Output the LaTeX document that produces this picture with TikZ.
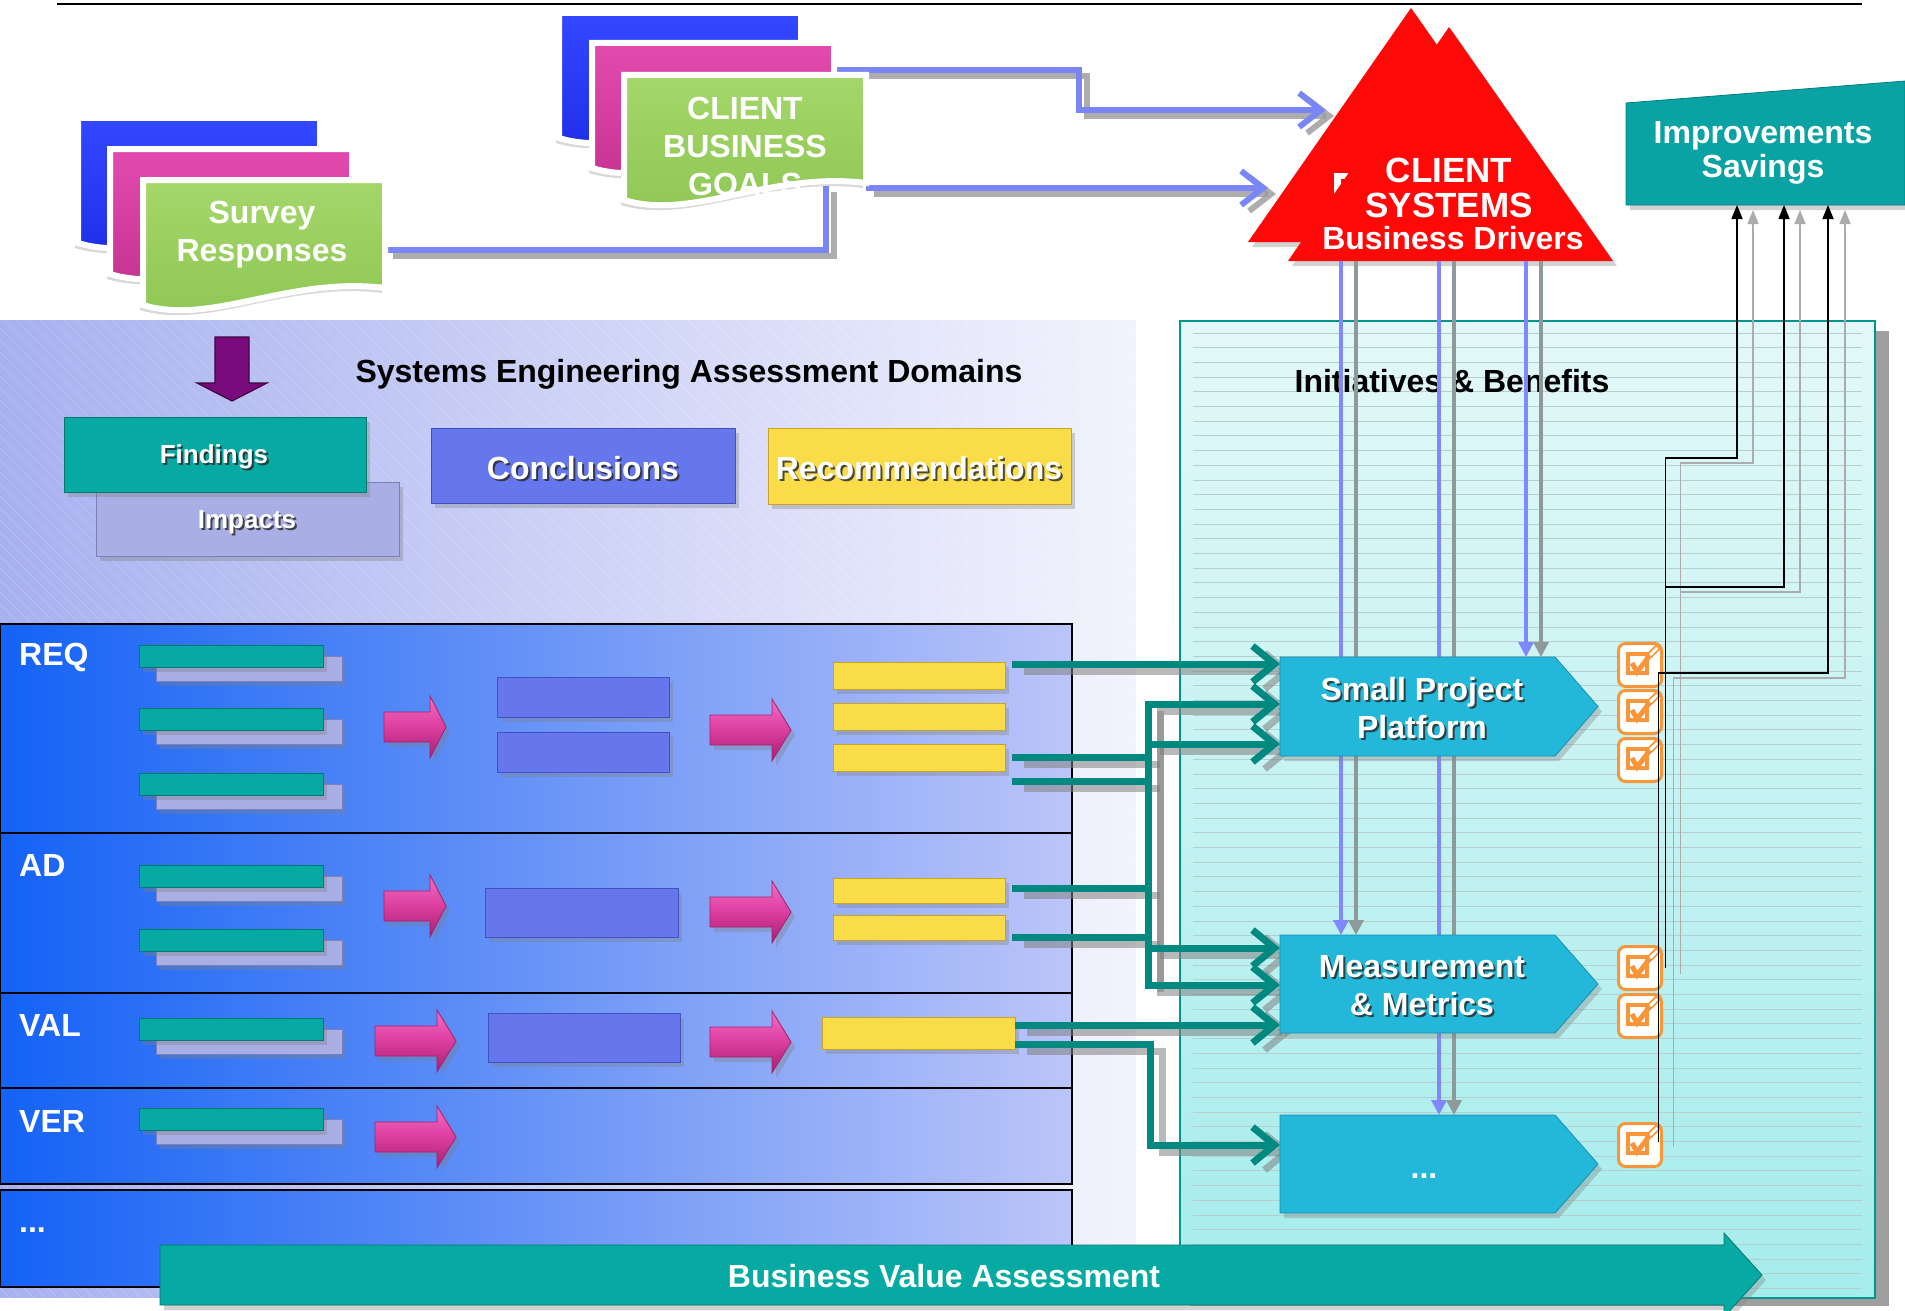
\documentclass[tikz,border=0pt]{standalone}
\usepackage{fontspec}
\setmainfont{Liberation Sans}
\usetikzlibrary{arrows.meta,shadows}

% palette
\definecolor{bandL}{HTML}{A7B1EF}
\definecolor{bandR}{HTML}{F3F3FD}
\definecolor{rowL}{HTML}{1462F6}
\definecolor{rowR}{HTML}{BCC5F8}
\definecolor{panelT}{HTML}{E3F8F8}
\definecolor{panelB}{HTML}{A5ECEC}
\definecolor{panelEdge}{HTML}{00958D}
\definecolor{ruleC}{HTML}{B5CFCF}
\definecolor{tealC}{HTML}{008980}
\definecolor{periw}{HTML}{7B86F6}
\definecolor{vblue}{HTML}{8088FF}
\definecolor{vgray}{HTML}{8E9999}
\definecolor{initL}{HTML}{62EAF8}
\definecolor{initB}{HTML}{23B8D9}
\definecolor{initD}{HTML}{1790B0}
\definecolor{tealL}{HTML}{34EAE0}
\definecolor{tealB}{HTML}{07AAA2}
\definecolor{tealD}{HTML}{05786F}
\definecolor{lavL}{HTML}{D8DAF7}
\definecolor{lavB}{HTML}{A9AEE5}
\definecolor{lavD}{HTML}{7A80BA}
\definecolor{conL}{HTML}{93A0FA}
\definecolor{conB}{HTML}{6677EE}
\definecolor{conD}{HTML}{4251C0}
\definecolor{recL}{HTML}{FFF29A}
\definecolor{recB}{HTML}{F9DC48}
\definecolor{recD}{HTML}{C9A22A}
\definecolor{pinkL}{HTML}{F46CC4}
\definecolor{pinkB}{HTML}{DC3E9F}
\definecolor{pinkD}{HTML}{A5206F}
\definecolor{grnL}{HTML}{A4D76A}
\definecolor{grnB}{HTML}{8EC653}
\definecolor{sblueL}{HTML}{3348FF}
\definecolor{sblueB}{HTML}{1E2DE6}
\definecolor{spinkL}{HTML}{E44AAE}
\definecolor{spinkB}{HTML}{C53290}
\definecolor{redB}{HTML}{FF0808}
\definecolor{redD}{HTML}{9C1010}
\definecolor{orangeC}{HTML}{F9963A}
\definecolor{purp}{HTML}{7A0B7C}
\definecolor{impL}{HTML}{1CC9C6}
\definecolor{impB}{HTML}{0AA3A3}
\definecolor{impD}{HTML}{067C7C}

% bevelled vertical shadings: name, light, base, dark
\newcommand\bevelshade[4]{\pgfdeclareverticalshading{#1}{100bp}{color(0bp)=(#4); color(8bp)=(#4); color(16bp)=(#3); color(80bp)=(#3); color(90bp)=(#2); color(100bp)=(#2)}}
\bevelshade{bvTeal}{tealL}{tealB}{tealD}
\bevelshade{bvLav}{lavL}{lavB}{lavD}
\bevelshade{bvCon}{conL}{conB}{conD}
\bevelshade{bvRec}{recL}{recB}{recD}
\bevelshade{bvInit}{initL}{initB}{initD}
\bevelshade{bvImp}{impL}{impB}{impD}
\pgfdeclareverticalshading{bvBVA}{100bp}{color(0bp)=(tealD); color(17bp)=(tealD); color(21bp)=(tealB); color(78bp)=(tealB); color(86bp)=(tealL); color(100bp)=(tealL)}
\pgfdeclareverticalshading{redTri}{100bp}{color(0bp)=(redD); color(4bp)=(redD); color(9bp)=(redB); color(100bp)=(redB)}

\newcommand\fntA{\fontsize{32}{38}\selectfont\bfseries}
\newcommand\fntB{\fontsize{26}{30}\selectfont\bfseries}
\newcommand\fntC{\fontsize{35}{35}\selectfont\bfseries}

% white label with a dark offset copy: font, name, position, text
\newcommand\stxt[4]{%
  \node[wt,font=#1,text=black!85,opacity=0.8] at ([shift={(2,2)}]#3) {#4};
  \node[wt,font=#1] (#2) at (#3) {#4};}

% page sheet with a wavy lower edge: x, y, style
\newcommand\docsheet[3]{%
  \path[#3] (#1,#2) -- (#1+242,#2) -- (#1+242,#2+108)
    .. controls (#1+146,#2+96) and (#1+68,#2+146) .. (#1,#2+125) -- cycle;}

% block arrow: x, y centre, shaft length, head length
\newcommand\pinkarrow[4]{%
  \path[pinkshape] (#1,#2-15) -- (#1+#3,#2-15) -- (#1+#3,#2-31) -- (#1+#3+#4,#2)
    -- (#1+#3,#2+31) -- (#1+#3,#2+15) -- (#1,#2+15) -- cycle;}

% finding bar over its impact bar: name, x, y
\newcommand\fpair[3]{%
  \node[lavbox,minimum width=186pt,minimum height=25pt] (#1b) at (#2+17,#3+11) {};
  \node[tealbox,minimum width=184pt,minimum height=22pt] (#1) at (#2,#3) {};}

% tick box: name, centre y
\newcommand\checkbox[2]{%
  \node[chkbox] (#1) at (1640,#2) {};
  \draw[orangeC,line width=4.5pt] ([shift={(-12,-11)}]#1.center) rectangle ([shift={(7,8)}]#1.center);
  \draw[orangeC,line width=5pt] ([shift={(-8,-2)}]#1.center) -- ([shift={(-3,7)}]#1.center) -- ([shift={(11,-11)}]#1.center);
  \draw[orangeC,line width=6.5pt] ([shift={(9,-9)}]#1.center) -- ([shift={(18,-18)}]#1.center);
  \draw[white,line width=2.8pt] ([shift={(10,-10)}]#1.center) -- ([shift={(17,-17)}]#1.center);}

% flows from the source documents to the drivers
\newcommand\bluenet[1]{%
  \draw[#1] (gdocA) -- (1079,70) -- (1079,110) -- (triInA);
  \draw[#1] (gdocB) -- (triInB);
  \draw[#1,-] (sdocA) -- (826,250) -- (826,186);}

% flows from the recommendations to the initiatives
\newcommand\tealnet[1]{%
  \draw[#1,-] (tS3) -- (tS3 -| busTop);
  \draw[#1,-] (tS4) -- (tS4 -| busTop);
  \draw[#1,-] (tA1) -- (tA1 -| busTop);
  \draw[#1,-] (tA2) -- (tA2 -| busTop);
  \draw[#1] (tS1) -- (tS1 -| spp.west);
  \draw[#1] (busBot) -- (busTop) -- (busTop -| spp.west);
  \draw[#1] (busA) -- (busA -| spp.west);
  \draw[#1] (busTop) -- (busBot) -- (busBot -| mm.west);
  \draw[#1] (busB) -- (busB -| mm.west);
  \draw[#1] (tV1) -- (tV1 -| mm.west);
  \draw[#1] (tV2) -- (tV2 -| dIn) -- (dIn) -- (dIn -| dots.west);}

\begin{document}
\begin{tikzpicture}[x=1pt,y=-1pt,
  dshadow/.style={drop shadow={opacity=0.35,shadow xshift=4pt,shadow yshift=-5pt}},
  box/.style={inner sep=0pt,outer sep=0pt,anchor=north west,line width=0.8pt},
  tealbox/.style={box,shading=bvTeal,draw=tealD,dshadow},
  lavbox/.style={box,shading=bvLav,draw=lavD,dshadow},
  conbox/.style={box,shading=bvCon,draw=conD,dshadow},
  recbox/.style={box,shading=bvRec,draw=recD,dshadow},
  wt/.style={text=white,font=\fntA,align=center,inner sep=0pt},
  lbl/.style={wt,anchor=west},
  rowbox/.style={left color=rowL,right color=rowR,draw=black,line width=2.5pt},
  docsheet/.style={draw=white,line width=6pt,drop shadow={opacity=0.3,shadow xshift=-3pt,shadow yshift=-5pt}},
  pinkshape/.style={top color=pinkL,bottom color=pinkD,middle color=pinkB,draw=pinkD,line width=0.8pt,dshadow},
  initshape/.style={shading=bvInit,draw=initD,line width=0.8pt,dshadow},
  chkbox/.style={draw=orangeC,fill=white,line width=3pt,rounded corners=7pt,minimum width=43pt,minimum height=43pt,inner sep=0pt},
  tconn/.style={draw=tealC,line width=7pt,-{Straight Barb[length=22pt,width=36pt]}},
  tshad/.style={draw=gray,opacity=0.55,line width=7pt,-{Straight Barb[length=22pt,width=36pt]}},
  bconn/.style={draw=periw,line width=6pt,-{Straight Barb[length=22pt,width=34pt]}},
  bshad/.style={draw=gray!80,opacity=0.8,line width=6pt,-{Straight Barb[length=22pt,width=34pt]}},
  vb/.style={draw=vblue,line width=3.5pt,-{Triangle[length=15pt,width=15pt]}},
  vg/.style={draw=vgray,line width=3.5pt,-{Triangle[length=15pt,width=15pt]}},
  kb/.style={draw=black,line width=1.6pt,-{Triangle[length=14pt,width=11pt]}},
  kg/.style={draw=gray!65,line width=1.6pt,-{Triangle[length=14pt,width=11pt]}},
]
\useasboundingbox (0,0) rectangle (1905,1311);
\clip (0,0) rectangle (1905,1311);
\fill[white] (0,0) rectangle (1905,1311);

% ---- assessment band ----
\path[left color=bandL,right color=bandR] (0,320) rectangle (1136,1297);
\begin{scope}
  \clip (0,320) rectangle (1136,1297);
  \foreach \i in {-980,-968,...,1136} \draw[white,opacity=0.2,line width=0.7pt] (\i,320) -- (\i+980,1300);
\end{scope}

% ---- initiatives panel ----
\fill[gray!75] (1190,331) rectangle (1889,1306);
\path[top color=panelT,bottom color=panelB] (1180,321) rectangle (1875,1298);
\foreach \k in {0,...,65} \draw[ruleC,line width=0.9pt] (1193,{333+14.7*\k}) -- (1862,{333+14.7*\k});
\draw[panelEdge,line width=2.5pt] (1180,321) rectangle (1875,1298);
\node[font=\fntA,inner sep=0pt] (ibT) at (1452,381) {Initiatives \& Benefits};

% heading rule
\draw[line width=2pt] (57,4) -- (1862,4);

% ---- domain rows ----
\foreach \ta/\tb in {624/833,833/993,993/1088,1088/1184,1190/1287}
  \path[rowbox] (0,\ta) rectangle (1072,\tb);
\node[lbl] (lREQ) at (19,657) {REQ};
\node[lbl] (lAD) at (19,865) {AD};
\node[lbl] (lVAL) at (19,1025) {VAL};
\node[lbl] (lVER) at (19,1121) {VER};
\node[lbl] (lMore) at (19,1230) {...};

\fpair{fR1}{139}{645}
\fpair{fR2}{139}{708}
\fpair{fR3}{139}{773}
\fpair{fA1}{139}{865}
\fpair{fA2}{139}{929}
\fpair{fV1}{139}{1018}
\fpair{fE1}{139}{1108}

\pinkarrow{384}{727}{46}{16}
\pinkarrow{710}{730}{62}{19}
\pinkarrow{384}{906}{46}{16}
\pinkarrow{710}{912}{62}{19}
\pinkarrow{375}{1041}{62}{19}
\pinkarrow{710}{1042}{62}{19}
\pinkarrow{375}{1137}{62}{19}

\node[conbox,minimum width=172pt,minimum height=40pt] (cR1) at (497,677) {};
\node[conbox,minimum width=172pt,minimum height=40pt] (cR2) at (497,732) {};
\node[conbox,minimum width=193pt,minimum height=49pt] (cA1) at (485,888) {};
\node[conbox,minimum width=192pt,minimum height=49pt] (cV1) at (488,1013) {};

\node[recbox,minimum width=172pt,minimum height=27pt] (yR1) at (833,662) {};
\node[recbox,minimum width=172pt,minimum height=27pt] (yR2) at (833,703) {};
\node[recbox,minimum width=172pt,minimum height=27pt] (yR3) at (833,744) {};
\node[recbox,minimum width=172pt,minimum height=25pt] (yA1) at (833,878) {};
\node[recbox,minimum width=172pt,minimum height=25pt] (yA2) at (833,915) {};
\node[recbox,minimum width=193pt,minimum height=32pt] (yV1) at (822,1017) {};

% ---- legend boxes ----
\node[font=\fntA,inner sep=0pt] (domT) at (689,374) {Systems Engineering Assessment Domains};
\node[lavbox,minimum width=303pt,minimum height=74pt] (impacts) at (96,482) {};
\node[tealbox,minimum width=302pt,minimum height=75pt] (findings) at (64,417) {};
\node[conbox,minimum width=304pt,minimum height=75pt] (concl) at (431,428) {};
\node[recbox,minimum width=303pt,minimum height=76pt] (recs) at (768,428) {};
\stxt{\fntB}{findT}{214,457}{Findings}
\stxt{\fntB}{impT}{247,522}{Impacts}
\stxt{\fntA}{conT}{583,468}{Conclusions}
\stxt{\fntA}{recT}{919,468}{Recommendations}

\path[fill=purp,draw=purp!50!black,line width=1.2pt] (215,337) -- (249,337) -- (249,383) -- (267,383) -- (232,401) -- (197,383) -- (215,383) -- cycle;

% ---- source documents and their flows ----
\coordinate (gdocA) at (834,70);
\coordinate (gdocB) at (866,188);
\coordinate (sdocA) at (385,250);
\coordinate (triInA) at (1326,110);
\coordinate (triInB) at (1268,188);
\begin{scope}[transform canvas={xshift=8pt,yshift=-6pt}]\bluenet{bshad}\end{scope}
\bluenet{bconn}

\docsheet{78}{118}{docsheet,top color=sblueL,bottom color=sblueB}
\docsheet{110}{149}{docsheet,top color=spinkL,bottom color=spinkB}
\docsheet{143}{180}{docsheet,top color=grnL,bottom color=grnB}
\node[wt] (surveyT) at (262,235) {Survey\\Responses};

\docsheet{559}{13}{docsheet,top color=sblueL,bottom color=sblueB}
\docsheet{592}{43}{docsheet,top color=spinkL,bottom color=spinkB}
\docsheet{624}{75}{docsheet,top color=grnL,bottom color=grnB}
\node[wt] (goalsT) at (745,146) {CLIENT\\BUSINESS\\GOALS};

% ---- business drivers ----
\path[shading=redTri,dshadow] (1411,8) -- (1575,242) -- (1248,242) -- cycle;
\fill[white] (1334,173) rectangle (1341,194);
\fill[white] (1334,173) rectangle (1352,179);
\path[shading=redTri,dshadow] (1449,27) -- (1613,261) -- (1288,261) -- cycle;
\coordinate (triBase) at (1288,261);
\node[wt,font=\fntC] (drvA) at (1449,170) {CLIENT};
\node[wt,font=\fntC] (drvB) at (1449,205) {SYSTEMS};
\node[wt] (drvC) at (1453,238) {Business Drivers};

% ---- improvements ----
\path[shading=bvImp,draw=impD,line width=0.8pt,dshadow] (1626,103) -- (1905,81) -- (1905,205) -- (1626,205) -- cycle;
\node[box,minimum width=279pt,minimum height=102pt] (impbox) at (1626,103) {};
\node[wt,font=\fontsize{32}{34}\selectfont\bfseries] (impText) at (1763,153) {Improvements\\Savings};

% ---- initiatives (outline nodes first, drawn later) ----
\node[box,minimum width=275pt,minimum height=99pt] (spp) at (1280,657) {};
\node[box,minimum width=275pt,minimum height=98pt] (mm) at (1280,935) {};
\node[box,minimum width=275pt,minimum height=98pt] (dots) at (1280,1115) {};

% driver lines down into the initiatives
\draw[vb] ([xshift=53pt]triBase) -- ([xshift=53pt]triBase |- mm.north);
\draw[vg] ([xshift=68pt]triBase) -- ([xshift=68pt]triBase |- mm.north);
\draw[vb] ([xshift=151pt]triBase) -- ([xshift=151pt]triBase |- dots.north);
\draw[vg] ([xshift=166pt]triBase) -- ([xshift=166pt]triBase |- dots.north);
\draw[vb] ([xshift=238pt]triBase) -- ([xshift=238pt]triBase |- spp.north);
\draw[vg] ([xshift=253pt]triBase) -- ([xshift=253pt]triBase |- spp.north);

% recommendation flows
\coordinate (tS1) at ([shift={(7,2)}]yR1.north east);
\coordinate (tS3) at ([xshift=7pt]yR3.east);
\coordinate (tS4) at ([shift={(7,10)}]yR3.south east);
\coordinate (tA1) at ([shift={(7,-2)}]yA1.east);
\coordinate (tA2) at ([shift={(7,-3)}]yA2.south east);
\coordinate (tV1) at ([yshift=8pt]yV1.east);
\coordinate (tV2) at ([yshift=-11pt]yV1.east);
\coordinate (busTop) at (1148,704);
\coordinate (busA) at (1148,744);
\coordinate (busB) at (1148,948);
\coordinate (busBot) at (1148,985);
\coordinate (dIn) at (1150,1145);
\begin{scope}[transform canvas={xshift=12pt,yshift=-7pt}]\tealnet{tshad}\end{scope}
\tealnet{tconn}

% initiative shapes
\path[initshape] (spp.north west) -- (spp.north east) -- ([xshift=43pt]spp.east) -- (spp.south east) -- (spp.south west) -- cycle;
\path[initshape] (mm.north west) -- (mm.north east) -- ([xshift=43pt]mm.east) -- (mm.south east) -- (mm.south west) -- cycle;
\path[initshape] (dots.north west) -- (dots.north east) -- ([xshift=43pt]dots.east) -- (dots.south east) -- (dots.south west) -- cycle;
\stxt{\fntA}{sppT}{1422,708}{Small Project\\Platform}
\stxt{\fntA}{mmT}{1422,986}{Measurement\\\& Metrics}
\node[wt] (dotsT) at (1424,1176) {...};

% ---- benefit ticks ----
\checkbox{cS1}{665}
\checkbox{cS2}{712}
\checkbox{cS3}{760}
\checkbox{cM1}{968}
\checkbox{cM2}{1016}
\checkbox{cD1}{1145}

% benefit lines up to improvements
\coordinate (h1) at (0,458);
\coordinate (h1g) at (0,463);
\coordinate (h2) at (0,587);
\coordinate (h2g) at (0,592);
\coordinate (h3) at (0,673);
\coordinate (h3g) at (0,678);
\coordinate (i1) at ([xshift=111pt]impbox.south west);
\coordinate (i1g) at ([shift={(127,5)}]impbox.south west);
\coordinate (i2) at ([xshift=158pt]impbox.south west);
\coordinate (i2g) at ([shift={(174,5)}]impbox.south west);
\coordinate (i3) at ([xshift=202pt]impbox.south west);
\coordinate (i3g) at ([shift={(219,5)}]impbox.south west);
\coordinate (k1) at ([xshift=2.5pt]cM1.east);
\coordinate (k1g) at ([shift={(17.5,6)}]cM1.east);
\coordinate (k3) at ([shift={(-4.5,-3)}]cD1.east);
\coordinate (k3g) at ([shift={(10.5,2)}]cD1.east);
\draw[kg] (k1g) -- (k1g |- h1g) -- (i1g |- h1g) -- (i1g);
\draw[kg] (k1g |- h2g) -- (i2g |- h2g) -- (i2g);
\draw[kg] (k3g) -- (k3g |- h3g) -- (i3g |- h3g) -- (i3g);
\draw[kb] (k1) -- (k1 |- h1) -- (i1 |- h1) -- (i1);
\draw[kb] (k1 |- h2) -- (i2 |- h2) -- (i2);
\draw[kb] (k3) -- (k3 |- h3) -- (i3 |- h3) -- (i3);

% ---- business value arrow ----
\path[shading=bvBVA,draw=tealD,line width=0.8pt,dshadow] (160,1245) -- (1724,1245) -- (1724,1233) -- (1762,1275) -- (1724,1317) -- (1724,1305) -- (160,1305) -- cycle;
\node[wt] (bvaT) at (944,1276) {Business Value Assessment};
\end{tikzpicture}
\end{document}
